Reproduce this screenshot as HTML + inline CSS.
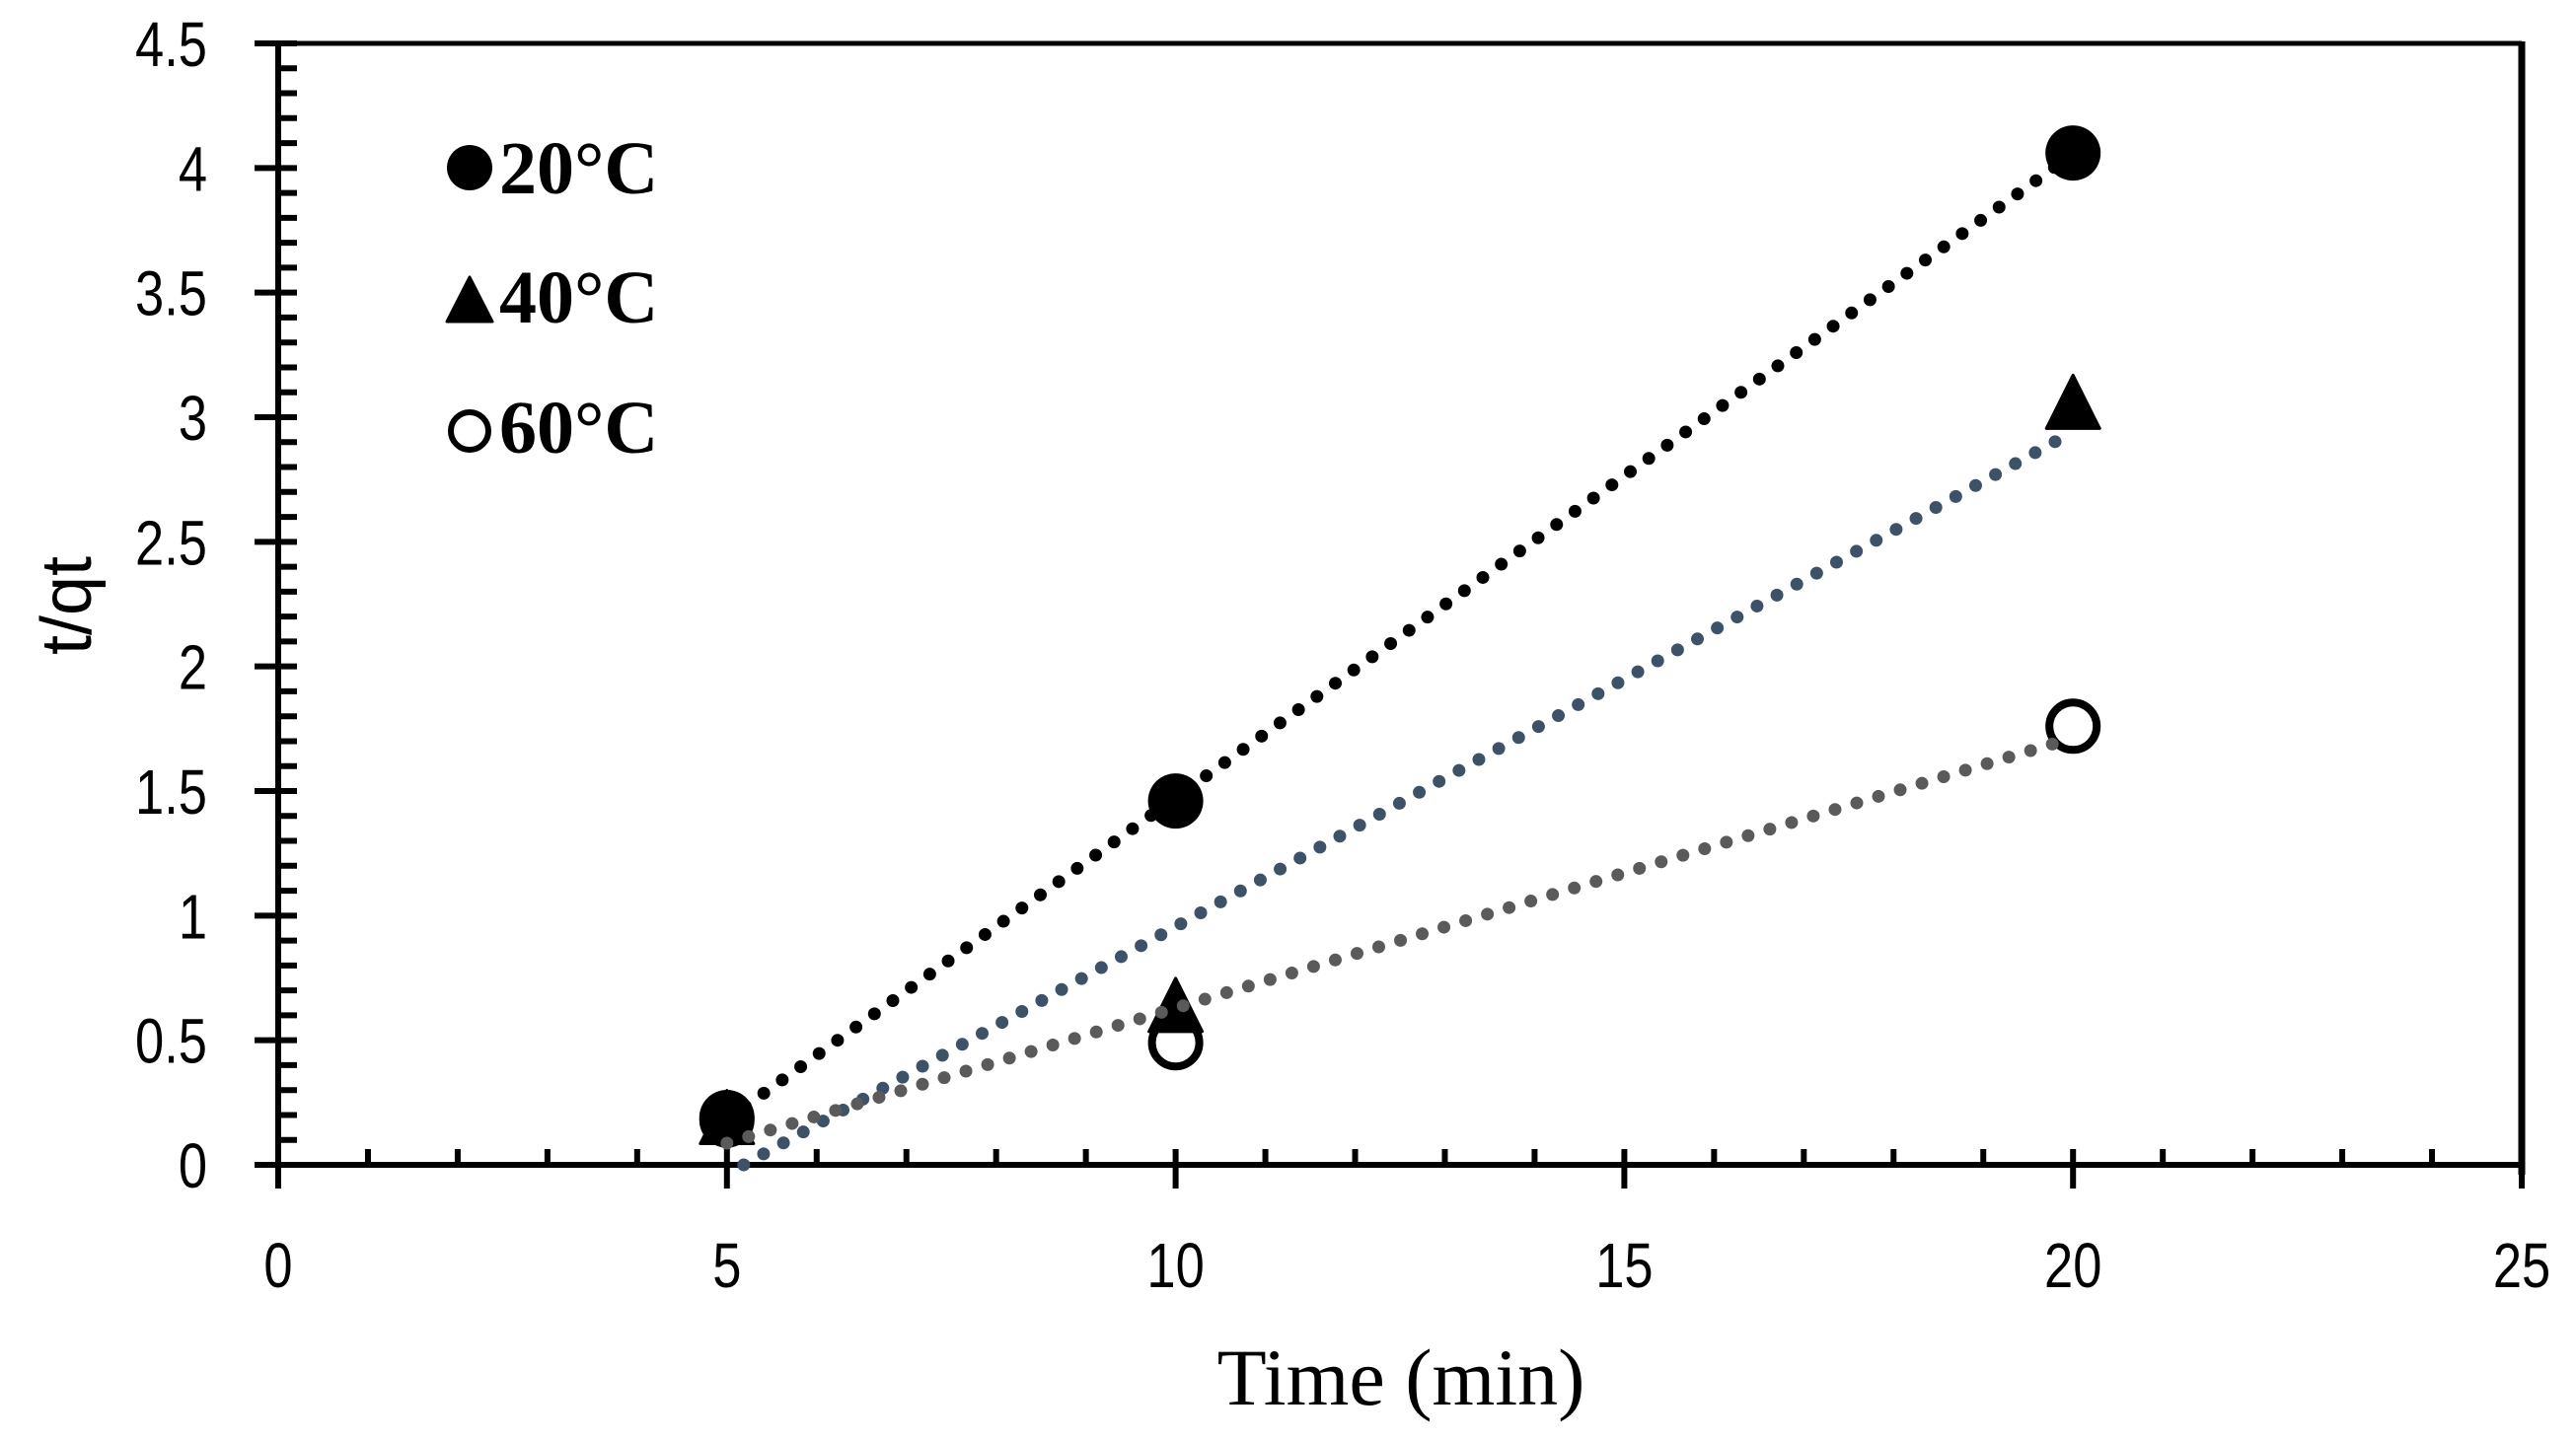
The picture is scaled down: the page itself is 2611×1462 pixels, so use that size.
<!DOCTYPE html>
<html><head><meta charset="utf-8">
<style>
html,body{margin:0;padding:0;background:#fff;}
svg{display:block;}
</style></head>
<body>
<svg id="chart" width="2611" height="1462" viewBox="0 0 2611 1462" xmlns="http://www.w3.org/2000/svg">
<rect x="0" y="0" width="2611" height="1462" fill="#fff"/>
<g id="frame"></g>
<g id="ticks"></g>
<g id="trendlines"></g>
<g id="markers"></g>
<g id="legend">
  <circle cx="476" cy="170" r="23" fill="#000"/>
  <text x="506" y="196" font-family="Liberation Serif, serif" font-weight="bold" font-size="76">20°C</text>
  <path d="M476 281 L499 326 L453 326 Z" fill="#000" stroke="#000" stroke-width="3" stroke-linejoin="round"/>
  <text x="506" y="327" font-family="Liberation Serif, serif" font-weight="bold" font-size="76">40°C</text>
  <circle cx="476" cy="437" r="19" fill="none" stroke="#000" stroke-width="6"/>
  <text x="506" y="459" font-family="Liberation Serif, serif" font-weight="bold" font-size="76">60°C</text>
</g>
<text x="1420" y="1424" text-anchor="middle" font-family="Liberation Serif, serif" font-size="82">Time (min)</text>
<text transform="translate(92,614) rotate(-90)" text-anchor="middle" font-family="Liberation Sans, sans-serif" font-size="72">t/qt</text>
</svg>
<script>
const xTicks = [0, 5, 10, 15, 20, 25];
const yTicks = [0, 0.5, 1, 1.5, 2, 2.5, 3, 3.5, 4, 4.5];
const yTickLabels = ["0", "0.5", "1", "1.5", "2", "2.5", "3", "3.5", "4", "4.5"];
const times = [5, 10, 20];
const series20 = [0.19, 1.46, 4.06];
const series40 = [0.18, 0.63, 3.05];
const series60 = [0.18, 0.49, 1.76];

const NS = "http://www.w3.org/2000/svg";
const L = 282, R = 2556, T = 44, B = 1181;
const xMin = 0, xMax = 25, yMin = 0, yMax = 4.5;
function sx(v){ return L + (v - xMin) / (xMax - xMin) * (R - L); }
function sy(v){ return B - (v - yMin) / (yMax - yMin) * (B - T); }
function mk(tag, attrs, parent){
  const e = document.createElementNS(NS, tag);
  for (const k in attrs) e.setAttribute(k, attrs[k]);
  parent.appendChild(e);
  return e;
}
const frame = document.getElementById('frame');
const ticks = document.getElementById('ticks');
const tl = document.getElementById('trendlines');
const mg = document.getElementById('markers');

let e;
e = mk('line', {x1:L, y1:T, x2:R, y2:T, stroke:'#000', 'stroke-width':5}, frame);


e = mk('line', {x1:R, y1:T-2, x2:R, y2:B+10, stroke:'#000', 'stroke-width':7}, frame);


e = mk('line', {x1:L, y1:T-2, x2:L, y2:B+24, stroke:'#000', 'stroke-width':6}, frame);


e = mk('line', {x1:L-24, y1:B, x2:R+3, y2:B, stroke:'#000', 'stroke-width':6}, frame);



for (let i = 1; i < 45; i++) {
  const v = i / 10;
  if (i % 5 === 0) continue;
  e = mk('line', {x1:L, y1:sy(v), x2:L+19, y2:sy(v), stroke:'#000', 'stroke-width':6}, ticks);
  
  
}
yTicks.forEach((v, i) => {
  e = mk('line', {x1:L-24, y1:sy(v), x2:L+19, y2:sy(v), stroke:'#000', 'stroke-width':6}, ticks);
  
  
  const t = mk('text', {x:0, y:0, 'text-anchor':'end', 'font-family':'Liberation Sans, sans-serif', 'font-size':64, transform:`translate(210,${sy(v)+23}) scale(0.82,1)`}, ticks);
  t.textContent = yTickLabels[i];
  
  
});
for (let v = 1; v < 25; v++) {
  if (v % 5 === 0) continue;
  e = mk('line', {x1:sx(v), y1:B, x2:sx(v), y2:B-16, stroke:'#000', 'stroke-width':6}, ticks);
  
  
}
xTicks.forEach(v => {
  e = mk('line', {x1:sx(v), y1:B-16, x2:sx(v), y2:B+24, stroke:'#000', 'stroke-width':6}, ticks);
  
  
  const t = mk('text', {x:0, y:0, 'text-anchor':'middle', 'font-family':'Liberation Sans, sans-serif', 'font-size':64, transform:`translate(${sx(v)},1305) scale(0.82,1)`}, ticks);
  t.textContent = String(v);
  
  
});

series60.forEach((v, i) => {
  e = mk('circle', {cx:sx(times[i]), cy:sy(v), r:24, fill:'#fff', stroke:'#000', 'stroke-width':8}, mg);
  
  
});
series40.forEach((v, i) => {
  const cx = sx(times[i]), cy = sy(v);
  e = mk('path', {d:`M${cx} ${cy-30} L${cx+27} ${cy+24} L${cx-27} ${cy+24} Z`, fill:'#000', stroke:'#000', 'stroke-width':3, 'stroke-linejoin':'round'}, mg);
  
  
});
series20.forEach((v, i) => {
  e = mk('circle', {cx:sx(times[i]), cy:sy(v), r:28, fill:'#000'}, mg);
  
  
});

function fit(xs, ys){
  const n = xs.length;
  const mx = xs.reduce((a,b)=>a+b,0)/n, my = ys.reduce((a,b)=>a+b,0)/n;
  let sxy = 0, sxx = 0;
  for (let i = 0; i < n; i++){ sxy += (xs[i]-mx)*(ys[i]-my); sxx += (xs[i]-mx)**2; }
  const m = sxy/sxx; return {m, b: my - m*mx};
}
function trend(ys, color, name){
  const f = fit(times, ys);
  let x1 = times[0], x2 = times[times.length-1];
  let y1 = f.m*x1 + f.b;
  if (y1 < 0) { x1 = -f.b / f.m; y1 = 0; }
  const y2 = f.m*x2 + f.b;
  const ln = mk('line', {x1:sx(x1), y1:sy(y1), x2:sx(x2), y2:sy(y2), stroke:color, 'stroke-width':13, 'stroke-linecap':'round', 'stroke-dasharray':'0 23'}, tl);
  
  
}
trend(series20, '#000000', 'trendline-20c');
trend(series40, '#3d5168', 'trendline-40c');
trend(series60, '#5a5a5a', 'trendline-60c');
document.getElementById('chart').appendChild(tl);
</script>
</body></html>
